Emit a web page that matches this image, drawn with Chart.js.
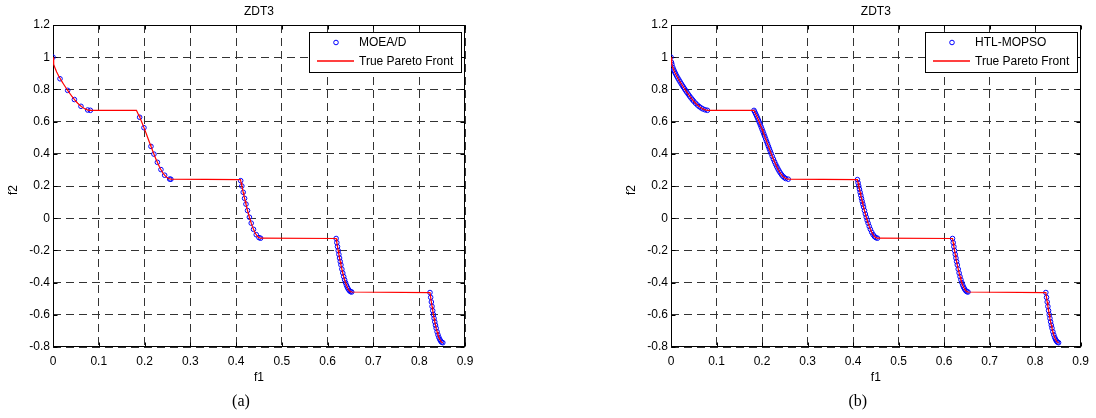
<!DOCTYPE html>
<html>
<head>
<meta charset="utf-8">
<script src="https://cdn.jsdelivr.net/npm/chart.js@4.4.1/dist/chart.umd.min.js"></script>
<style>
  html, body { margin: 0; padding: 0; background: #fff; }
  #wrap { position: relative; width: 1096px; height: 418px; }
  .panel { position: absolute; top: 0; width: 548px; height: 418px; }
</style>
</head>
<body>
<div id="wrap">
  <div class="panel" style="left:0"><canvas id="chartA" width="548" height="418"></canvas></div>
  <div class="panel" style="left:548px"><canvas id="chartB" width="548" height="418"></canvas></div>
</div>
<script>
const xTicks = [0, 0.1, 0.2, 0.3, 0.4, 0.5, 0.6, 0.7, 0.8, 0.9];
const yTicks = [-0.8, -0.6, -0.4, -0.2, 0, 0.2, 0.4, 0.6, 0.8, 1, 1.2];

// true Pareto front
const frontF1 = [
  0, 0.001, 0.002, 0.004, 0.006, 0.008, 0.010, 0.0125, 0.015, 0.0175, 0.020, 0.0225, 0.025, 0.0275, 0.030,
  0.0325, 0.035, 0.038, 0.041, 0.044, 0.047, 0.050, 0.054, 0.058, 0.062, 0.066, 0.070, 0.075, 0.080, 0.083,
  0.1823, 0.184, 0.186, 0.188, 0.190, 0.192, 0.194, 0.196, 0.198, 0.200, 0.202, 0.204, 0.206, 0.208, 0.210,
  0.212, 0.214, 0.216, 0.218, 0.220, 0.2225, 0.225, 0.2275, 0.230, 0.2325, 0.235, 0.2375, 0.240, 0.243,
  0.246, 0.249, 0.252, 0.2575,
  0.4095, 0.411, 0.4125, 0.414, 0.4155, 0.417, 0.4185, 0.420, 0.4215, 0.423, 0.425, 0.427, 0.429, 0.431,
  0.433, 0.4355, 0.438, 0.441, 0.444, 0.447, 0.450, 0.4535,
  0.6185, 0.620, 0.6215, 0.623, 0.6245, 0.626, 0.6275, 0.629, 0.631, 0.633, 0.635, 0.637, 0.639, 0.641,
  0.643, 0.645, 0.6475, 0.650, 0.6525,
  0.8235, 0.825, 0.8265, 0.828, 0.8295, 0.831, 0.8325, 0.834, 0.8355, 0.837, 0.839, 0.841, 0.843, 0.845,
  0.847, 0.849, 0.8515
];
const frontF2 = [
  1, 0.9684, 0.9552, 0.9363, 0.9214, 0.9086, 0.8969, 0.8834, 0.8707, 0.8586, 0.8468, 0.8354, 0.8242, 0.8133, 0.8025,
  0.7920, 0.7817, 0.7698, 0.7581, 0.7470, 0.7364, 0.7264, 0.7140, 0.7030, 0.6934, 0.6853, 0.6788, 0.6731, 0.6701, 0.6696,
  0.6697, 0.6597, 0.6479, 0.6356, 0.6228, 0.6096, 0.5959, 0.5819, 0.5674, 0.5528, 0.5379, 0.5227, 0.5075, 0.4922, 0.4768,
  0.4616, 0.4463, 0.4311, 0.4163, 0.4017, 0.3838, 0.3666, 0.3500, 0.3343, 0.3196, 0.3058, 0.2933, 0.2818, 0.2699,
  0.2599, 0.2521, 0.2465, 0.2423,
  0.2397, 0.2197, 0.1998, 0.1803, 0.1610, 0.1419, 0.1233, 0.1050, 0.0873, 0.0699, 0.0476, 0.0262, 0.0060, -0.0130,
  -0.0307, -0.0510, -0.0691, -0.0876, -0.1024, -0.1136, -0.1208, -0.1242,
  -0.1261, -0.1518, -0.1770, -0.2013, -0.2249, -0.2476, -0.2693, -0.2901, -0.3163, -0.3404, -0.3627, -0.3827, -0.4006, -0.4162,
  -0.4294, -0.4402, -0.4502, -0.4562, -0.4583,
  -0.4617, -0.4917, -0.5204, -0.5479, -0.5742, -0.5989, -0.6221, -0.6438, -0.6644, -0.6831, -0.7054, -0.7247, -0.7409, -0.7538,
  -0.7636, -0.7700, -0.7733
];

// (a) MOEA/D solutions
const moeadF1 = [
  0, 0.0153, 0.032, 0.0467, 0.0611, 0.0758, 0.0816,
  0.1893, 0.1987, 0.214, 0.2205, 0.228, 0.2358, 0.2439, 0.2548, 0.2575,
  0.410, 0.4125, 0.4155, 0.4185, 0.4215, 0.425, 0.429, 0.433, 0.438, 0.444, 0.450, 0.4535,
  0.6185, 0.620, 0.6215, 0.623, 0.6245, 0.626, 0.6275, 0.629, 0.631, 0.633, 0.635, 0.637, 0.639, 0.641,
  0.643, 0.645, 0.6475, 0.650, 0.6525,
  0.8235, 0.825, 0.8265, 0.828, 0.8295, 0.831, 0.8325, 0.834, 0.8355, 0.837, 0.839, 0.841, 0.843, 0.845,
  0.847, 0.849, 0.8515
];
const moeadF2 = [
  1, 0.866, 0.794, 0.737, 0.695, 0.672, 0.670,
  0.627, 0.562, 0.446, 0.398, 0.347, 0.302, 0.267, 0.243, 0.242,
  0.233, 0.1998, 0.1610, 0.1233, 0.0873, 0.0476, 0.0060, -0.0307, -0.0691, -0.1024, -0.1208, -0.1242,
  -0.1261, -0.1518, -0.1770, -0.2013, -0.2249, -0.2476, -0.2693, -0.2901, -0.3163, -0.3404, -0.3627, -0.3827, -0.4006, -0.4162,
  -0.4294, -0.4402, -0.4502, -0.4562, -0.4583,
  -0.4617, -0.4917, -0.5204, -0.5479, -0.5742, -0.5989, -0.6221, -0.6438, -0.6644, -0.6831, -0.7054, -0.7247, -0.7409, -0.7538,
  -0.7636, -0.7700, -0.7733
];

// (b) HTL-MOPSO solutions
const htlF1 = [
  0, 0.001, 0.002, 0.004, 0.006, 0.008, 0.010, 0.0125, 0.015, 0.0175, 0.020, 0.0225, 0.025, 0.0275, 0.030,
  0.0325, 0.035, 0.038, 0.041, 0.044, 0.047, 0.050, 0.054, 0.058, 0.062, 0.066, 0.070, 0.075, 0.080,
  0.1823, 0.184, 0.186, 0.188, 0.190, 0.192, 0.194, 0.196, 0.198, 0.200, 0.202, 0.204, 0.206, 0.208, 0.210,
  0.212, 0.214, 0.216, 0.218, 0.220, 0.2225, 0.225, 0.2275, 0.230, 0.2325, 0.235, 0.2375, 0.240, 0.243,
  0.246, 0.249, 0.252, 0.2575,
  0.4095, 0.411, 0.4125, 0.414, 0.4155, 0.417, 0.4185, 0.420, 0.4215, 0.423, 0.425, 0.427, 0.429, 0.431,
  0.433, 0.4355, 0.438, 0.441, 0.444, 0.447, 0.450, 0.4535,
  0.6185, 0.620, 0.6215, 0.623, 0.6245, 0.626, 0.6275, 0.629, 0.631, 0.633, 0.635, 0.637, 0.639, 0.641,
  0.643, 0.645, 0.6475, 0.650, 0.6525,
  0.8235, 0.825, 0.8265, 0.828, 0.8295, 0.831, 0.8325, 0.834, 0.8355, 0.837, 0.839, 0.841, 0.843, 0.845,
  0.847, 0.849, 0.8515
];
const htlF2 = [
  1, 0.9684, 0.9552, 0.9363, 0.9214, 0.9086, 0.8969, 0.8834, 0.8707, 0.8586, 0.8468, 0.8354, 0.8242, 0.8133, 0.8025,
  0.7920, 0.7817, 0.7698, 0.7581, 0.7470, 0.7364, 0.7264, 0.7140, 0.7030, 0.6934, 0.6853, 0.6788, 0.6731, 0.6701,
  0.6697, 0.6597, 0.6479, 0.6356, 0.6228, 0.6096, 0.5959, 0.5819, 0.5674, 0.5528, 0.5379, 0.5227, 0.5075, 0.4922, 0.4768,
  0.4616, 0.4463, 0.4311, 0.4163, 0.4017, 0.3838, 0.3666, 0.3500, 0.3343, 0.3196, 0.3058, 0.2933, 0.2818, 0.2699,
  0.2599, 0.2521, 0.2465, 0.2423,
  0.2397, 0.2197, 0.1998, 0.1803, 0.1610, 0.1419, 0.1233, 0.1050, 0.0873, 0.0699, 0.0476, 0.0262, 0.0060, -0.0130,
  -0.0307, -0.0510, -0.0691, -0.0876, -0.1024, -0.1136, -0.1208, -0.1242,
  -0.1261, -0.1518, -0.1770, -0.2013, -0.2249, -0.2476, -0.2693, -0.2901, -0.3163, -0.3404, -0.3627, -0.3827, -0.4006, -0.4162,
  -0.4294, -0.4402, -0.4502, -0.4562, -0.4583,
  -0.4617, -0.4917, -0.5204, -0.5479, -0.5742, -0.5989, -0.6221, -0.6438, -0.6644, -0.6831, -0.7054, -0.7247, -0.7409, -0.7538,
  -0.7636, -0.7700, -0.7733
];

const SANS = '"Liberation Sans", Arial, Helvetica, sans-serif';
const SERIF = '"Liberation Serif", "Times New Roman", serif';

function toPoints(xs, ys) {
  return xs.map((v, i) => ({ x: v, y: ys[i] }));
}

// frame, inward ticks, titles and the boxed legend, matlab style
const matlabDecor = {
  id: 'matlabDecor',
  beforeDatasetsDraw(chart, args, opts) {
    const { ctx, chartArea: a, scales: { x, y } } = chart;
    const l = Math.round(a.left) + 0.5, r = Math.round(a.right) - 0.5;
    const t = Math.round(a.top) + 0.5, b = Math.round(a.bottom) - 0.5;
    ctx.save();
    ctx.strokeStyle = '#000';
    ctx.lineWidth = 1;
    ctx.beginPath();
    xTicks.forEach(v => {
      const px = Math.round(x.getPixelForValue(v)) + 0.5;
      ctx.moveTo(px, b); ctx.lineTo(px, b - 4);
      ctx.moveTo(px, t); ctx.lineTo(px, t + 4);
    });
    yTicks.forEach(v => {
      const py = Math.round(y.getPixelForValue(v)) + 0.5;
      ctx.moveTo(l, py); ctx.lineTo(l + 4, py);
      ctx.moveTo(r, py); ctx.lineTo(r - 4, py);
    });
    ctx.stroke();
    ctx.strokeRect(l, t, r - l, b - t);

    const cx = (a.left + a.right) / 2;
    ctx.fillStyle = '#000';
    ctx.font = '12px ' + SANS;
    ctx.textAlign = 'center';
    ctx.textBaseline = 'middle';
    ctx.fillText('ZDT3', cx, 12);
    ctx.fillText('f1', cx, 378);
    ctx.save();
    ctx.translate(a.left - 39, 190);
    ctx.rotate(-Math.PI / 2);
    ctx.fillText('f2', 0, 0);
    ctx.restore();
    ctx.font = '16px ' + SERIF;
    ctx.fillText(opts.caption, cx - 18, 402);
    ctx.restore();
  },
  afterDraw(chart, args, opts) {
    const { ctx, chartArea: a } = chart;
    ctx.save();
    ctx.font = '12px ' + SANS;
    const w = Math.max(ctx.measureText(opts.name).width, ctx.measureText('True Pareto Front').width);
    const bw = Math.round(50 + w + 8);
    const right = Math.round(a.right) - 4;
    const left = right - bw;
    const top = Math.round(a.top) + 7;
    ctx.fillStyle = '#fff';
    ctx.fillRect(left, top, bw, 40);
    ctx.strokeStyle = '#000';
    ctx.lineWidth = 1;
    ctx.strokeRect(left + 0.5, top + 0.5, bw, 40);

    ctx.strokeStyle = '#0000ff';
    ctx.beginPath();
    ctx.arc(left + 27, top + 10.5, 2.3, 0, Math.PI * 2);
    ctx.stroke();
    // legend sample of the red front line
    ctx.strokeStyle = '#ff0000';
    ctx.lineWidth = 1.4;
    ctx.beginPath();
    ctx.moveTo(left + 8, top + 29);
    ctx.lineTo(left + 45, top + 29);
    ctx.stroke();

    ctx.fillStyle = '#000';
    ctx.textAlign = 'left';
    ctx.textBaseline = 'middle';
    ctx.fillText(opts.name, left + 50, top + 11);
    ctx.fillText('True Pareto Front', left + 50, top + 30);
    ctx.restore();
  }
};

function makeChart(id, name, caption, xs, ys, padLeft, yWidth, padRight) {
  const tickFont = { family: SANS, size: 12 };
  return new Chart(document.getElementById(id), {
    type: 'scatter',
    data: {
      datasets: [
        {
          label: 'True Pareto Front',
          data: toPoints(frontF1, frontF2),
          showLine: true,
          borderColor: '#ff0000',
          borderWidth: 1.2,
          pointRadius: 0,
          tension: 0,
          order: 0
        },
        {
          label: name,
          data: toPoints(xs, ys),
          pointStyle: 'circle',
          pointRadius: 2.3,
          pointBorderWidth: 1,
          borderColor: '#0000ff',
          backgroundColor: 'rgba(0,0,0,0)',
          order: 1
        }
      ]
    },
    options: {
      responsive: false,
      animation: false,
      events: [],
      layout: { padding: { left: padLeft, right: padRight, top: 25, bottom: 0 } },
      plugins: {
        legend: { display: false },
        tooltip: { enabled: false },
        matlabDecor: { name: name, caption: caption }
      },
      scales: {
        x: {
          type: 'linear',
          min: 0,
          max: 0.9,
          afterBuildTicks: s => { s.ticks = xTicks.map(v => ({ value: v })); },
          afterFit: s => { s.height = 71; },
          ticks: { font: tickFont, color: '#000', padding: 7, maxRotation: 0, callback: v => String(v) },
          grid: { color: '#333', lineWidth: 1, drawTicks: false },
          border: { display: false, dash: [8, 5] }
        },
        y: {
          type: 'linear',
          min: -0.8,
          max: 1.2,
          afterBuildTicks: s => { s.ticks = yTicks.map(v => ({ value: v })); },
          afterFit: s => { s.width = yWidth; },
          ticks: { font: tickFont, color: '#000', padding: 3, callback: v => String(v) },
          grid: { color: '#333', lineWidth: 1, drawTicks: false },
          border: { display: false, dash: [8, 5] }
        }
      }
    },
    plugins: [matlabDecor]
  });
}

makeChart('chartA', 'MOEA/D', '(a)', moeadF1, moeadF2, 0, 53, 83);
makeChart('chartB', 'HTL-MOPSO', '(b)', htlF1, htlF2, 73, 50, 12);
</script>
</body>
</html>
